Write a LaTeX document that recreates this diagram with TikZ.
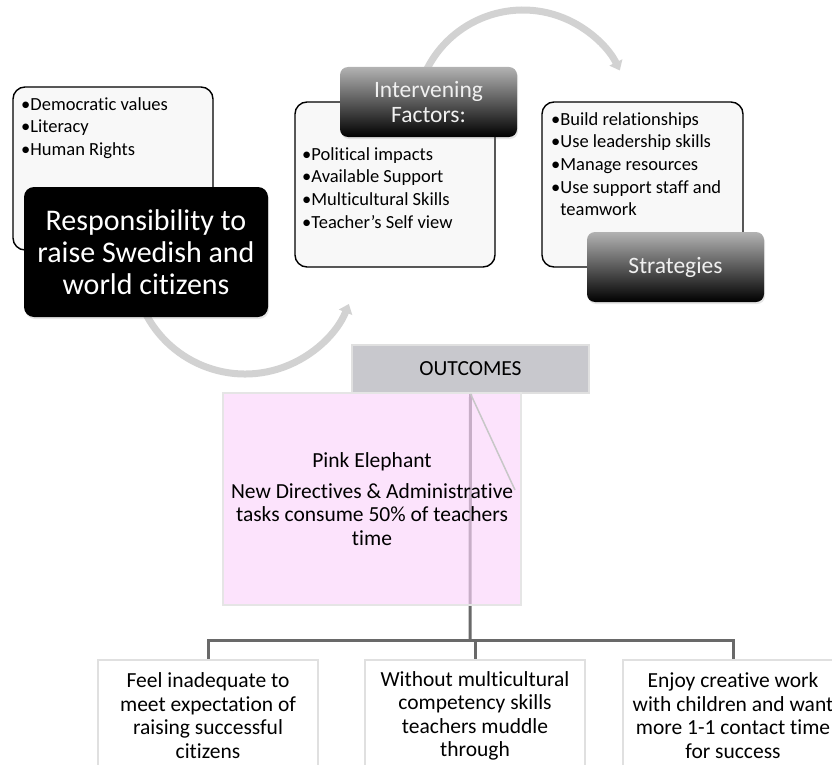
\documentclass[tikz,border=0pt]{standalone}
\usepackage{fontspec}
\setmainfont{Carlito}[Ligatures = NoCommon]
\usepackage{tikz}
\usetikzlibrary{shapes,shadows,arrows.meta,positioning}

\definecolor{turngrey}{RGB}{210,210,210}
\definecolor{listfill}{RGB}{248,248,248}
\definecolor{pinkfill}{RGB}{250,212,250}
\definecolor{outfill}{RGB}{200,200,205}
\definecolor{treegrey}{RGB}{105,105,105}

\begin{document}
\begin{tikzpicture}
		[
		x = 1pt, y = -1pt,
		listbox/.style = {draw = black, line width = 1.4pt, fill = listfill, rounded corners = 12pt},
		headbox/.style = {rounded corners = 8pt, top color = gray!60, bottom color = black, text = white!94!black, align = center, font = \fontsize{23.5}{25}\selectfont, drop shadow = {opacity = 0.2, shadow xshift = 1pt, shadow yshift = -2pt}},
		bigbox/.style = {fill = black, rounded corners = 10pt, text = white, align = center, font = \fontsize{30}{32}\selectfont, drop shadow = {opacity = 0.2, shadow xshift = 1pt, shadow yshift = -2pt}},
		bullets/.style = {align = left, inner sep = 0pt, anchor = north west, font = \fontsize{18.5}{22.7}\selectfont},
		outbox/.style = {draw = white!88!black, line width = 1.5pt, fill = white, align = center, minimum width = 220, minimum height = 112, anchor = north, font = \fontsize{21.5}{23.5}\selectfont},
		turn/.style = {turngrey, line width = 7pt, -{Triangle[width = 14pt, length = 9pt]}},
		tree/.style = {treegrey, line width = 3pt}
		]
		
		\useasboundingbox (0,0) rectangle (832,765);
		
		\draw[turn] (139.8,300.3) arc[start angle = 160, end angle = 22, radius = 112];
		\draw[turn] (425.4,72.2) arc[start angle = 205, end angle = 334, radius = 107.7];
		
		\node[listbox, minimum width = 200, minimum height = 163] (values) at (113,168.5) {};
		\node[bullets] (valuelist) at (21,97) {\textbullet Democratic values\\ \textbullet Literacy\\ \textbullet Human Rights};
		\node[bigbox, minimum width = 244, minimum height = 130] (duty) at (146,252) {Responsibility to\\ raise Swedish and\\ world citizens};
		
		\node[listbox, minimum width = 200, minimum height = 165] (factors) at (395,184.5) {};
		\node[bullets] (factorlist) at (302,147) {\textbullet Political impacts\\ \textbullet Available Support\\ \textbullet Multicultural Skills\\ \textbullet Teacher’s Self view};
		\node[headbox, minimum width = 177, minimum height = 70] (factorhead) at (428.5,102) {Intervening\\ Factors:};
		
		\node[listbox, minimum width = 201, minimum height = 165] (strategies) at (642.5,184.5) {};
		\node[bullets] (strategylist) at (551,112) {\textbullet Build relationships\\ \textbullet Use leadership skills\\ \textbullet Manage resources\\ \textbullet Use support staff and\\ \phantom{\textbullet}teamwork};
		\node[headbox, minimum width = 177, minimum height = 70] (strategyhead) at (675.5,267) {Strategies};
		
		\node[draw = white!88!black, line width = 1.5pt, fill = outfill, minimum width = 237, minimum height = 48, font = \fontsize{21.5}{23.5}\selectfont] (outcomes) at (470.5,369) {OUTCOMES};
		
		\coordinate (fork) at (470,640);
		\node[outbox] (inadequate) at (208,659) {Feel inadequate to\\ meet expectation of\\ raising successful\\ citizens};
		\node[outbox] (muddle) at (475,659) {Without multicultural\\ competency skills\\ teachers muddle\\ through};
		\node[outbox] (creative) at (733,659) {Enjoy creative work\\ with children and want\\ more 1-1 contact time\\ for success};
		
		\draw[tree] (outcomes.south) -- (fork);
		\draw[tree] (fork) -| (inadequate.north);
		\draw[tree] (fork) -| (muddle.north);
		\draw[tree] (fork) -| (creative.north);
		
		\node[draw = white!90!black, line width = 1.5pt, fill = pinkfill, fill opacity = 0.65, text opacity = 1, minimum width = 298, minimum height = 212, align = center, font = \fontsize{21.5}{23.5}\selectfont] (elephant) at (372,499) {Pink Elephant\\[7pt] New Directives \& Administrative\\ tasks consume 50\% of teachers\\ time};
		
		\coordinate (corner) at (515,490);
		\draw[white!78!black, line width = 1.5pt] (outcomes.south) -- (corner);
		
\end{tikzpicture}
\end{document}
